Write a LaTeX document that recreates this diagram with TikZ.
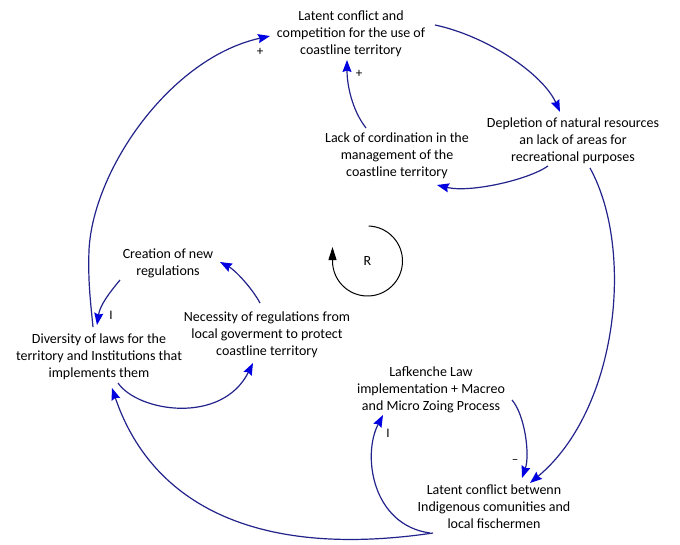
\documentclass[tikz,border=0pt]{standalone}
\usepackage{fontspec}
\setmainfont{Carlito}
\usetikzlibrary{arrows.meta,calc}
\definecolor{linkline}{RGB}{35,35,140}
\definecolor{linkhead}{RGB}{0,0,225}
\begin{document}
\begin{tikzpicture}[x=1pt,y=-1pt,
  varnode/.style={align=center,inner sep=0pt,font=\fontsize{14}{17}\selectfont},
  link/.style={draw=linkline,line width=1.2pt,
    -{Stealth[length=12pt,width=9pt,inset=1.5pt,fill=linkhead,color=linkhead]}},
  signlbl/.style={font=\fontsize{13}{15}\selectfont,inner sep=0pt},
  loopline/.style={draw=black,line width=1pt,-{Triangle[length=13pt,width=8pt]}}]
\useasboundingbox (0,0) rectangle (680,544);
\fill[white] (0,0) rectangle (680,544);

% variables
\node[varnode] (T) at (351,34) {Latent conflict and\\competition for the use of\\coastline territory};
\node[varnode] (D) at (573,141) {Depletion of natural resources\\an lack of areas for\\recreational purposes};
\node[varnode] (L) at (397,156) {Lack of cordination in the\\management of the\\coastline territory};
\node[varnode] (C) at (168,263) {Creation of new\\regulations};
\node[varnode] (N) at (267,335) {Necessity of regulations from\\local goverment to protect\\coastline territory};
\node[varnode] (V) at (99,357) {Diversity of laws for the\\territory and Institutions that\\implements them};
\node[varnode] (K) at (431,390) {Lafkenche Law\\implementation + Macreo\\and Micro Zoing Process};
\node[varnode] (B) at (494,507) {Latent conflict betwenn\\Indigenous comunities and\\local fischermen};

% loop marker
\node[varnode] (Rc) at (367.5,261) {R};
\draw[loopline] ($(Rc)+(-88:35)$) arc[start angle=-88,end angle=180,radius=35] -- ++(0,-14);

% links
\draw[link] ($(T)+(84,-9)$) .. controls +(52,11) and +(-17,-38) .. ($(D)+(-13,-29)$);
\draw[link] ($(D)+(-25,25)$) .. controls +(-20,14) and +(33,8) .. ($(L)+(40,29)$);
\draw[link] ($(L)+(-31,-28)$) .. controls +(-14,-18) and +(0,25) .. ($(T)+(-4,26)$);
\draw[link] ($(D)+(17,27)$) .. controls +(45,82) and +(88,-73) .. ($(B)+(36,-24)$);
\draw[link] ($(K)+(81,10)$) .. controls +(13,15) and +(8,-23) .. ($(B)+(28,-29)$);
\draw[link] ($(B)+(-64,26)$) .. controls +(-58,-8) and +(-21,40) .. ($(K)+(-48,25)$);
\draw[link] ($(B)+(-61,26)$) .. controls +(-183,27) and +(38,112) .. ($(V)+(13,31)$);
\draw[link] ($(V)+(19,26)$) .. controls +(20,29) and +(-31,62) .. ($(N)+(-14,28)$);
\draw[link] ($(N)+(-7,-32)$) .. controls +(-8,-15) and +(15,8) .. ($(C)+(52,-1)$);
\draw[link] ($(C)+(-48,17)$) .. controls +(-10,12) and +(3,-20) .. ($(V)+(-2,-32)$);
\draw[link] ($(V)+(-6,-30)$) .. controls +(-3,-30) and +(-1,30) .. ($(V)+(-10,-107)$)
   .. controls +(4,-80) and +(-100,22) .. ($(T)+(-81,2)$);

% polarity signs
\node[signlbl] (s1) at (260,52) {+};
\node[signlbl] (s2) at (359,74) {+};
\node[signlbl] (s3) at (111,315) {I};
\node[signlbl] (s4) at (388,433) {I};
\node[signlbl] (s5) at (515,461) {--};
\end{tikzpicture}
\end{document}
